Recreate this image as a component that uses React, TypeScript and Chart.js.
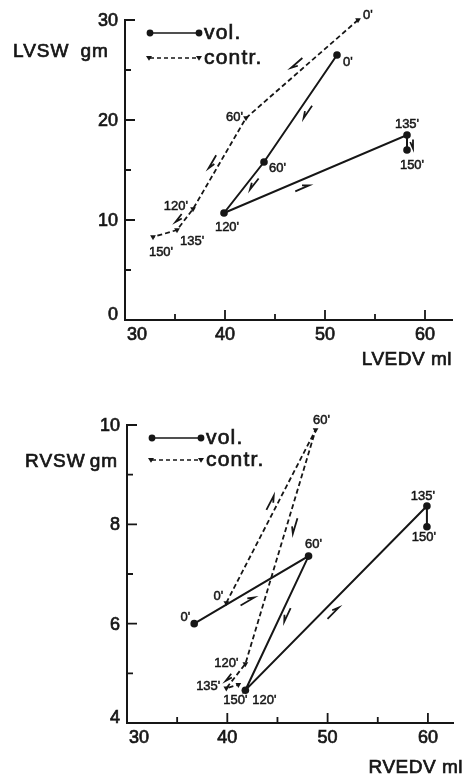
import { useEffect, useRef } from "react";
import { Chart, registerables } from "chart.js";

Chart.register(...registerables);

// Measurement times (minutes)
const timeLabels = ["0'", "60'", "120'", "135'", "150'"];
const seriesNames = ["vol.", "contr."];

// Left ventricle: end-diastolic volume (ml) vs stroke work (gm)
const lvVolEDV = [51.2, 43.9, 39.9, 58.2, 58.2];
const lvVolSW = [26.5, 15.8, 10.7, 18.5, 17.0];
const lvContrEDV = [53.3, 42.1, 36.8, 35.2, 32.8];
const lvContrSW = [30.0, 20.2, 11.1, 9.0, 8.3];

// Right ventricle: end-diastolic volume (ml) vs stroke work (gm)
const rvVolEDV = [36.7, 48.1, 41.8, 59.9, 59.9];
const rvVolSW = [6.0, 7.36, 4.66, 8.37, 7.95];
const rvContrEDV = [39.9, 48.8, 41.8, 39.9, 41.1];
const rvContrSW = [6.42, 9.9, 5.19, 4.7, 4.77];

// Axis ticks
const edvMajorTicks = [30, 40, 50, 60];
const edvMinorTicks = [35, 45, 55];
const lvswMajorTicks = [0, 10, 20, 30];
const lvswMinorTicks = [5, 15, 25];
const rvswMajorTicks = [4, 6, 8, 10];
const rvswMinorTicks = [5, 7, 9];

const INK = "#161616";
const FONT = '"Liberation Sans", Arial, sans-serif';

type Placement = [number, number, CanvasTextAlign];
type Harpoon = { seg: number; t: number; off: number; len: number };

interface PanelDef {
  height: number;
  pad: { top: number; right: number };
  yAxisWidth: number;
  xAxisHeight: number;
  xMin: number;
  xMax: number;
  yMin: number;
  yMax: number;
  yMajor: number[];
  yMinor: number[];
  yTitle: [string, string];
  yTitlePos: { x: number; gap: number; y: number };
  xTitle: string;
  xTitlePos: { right: number; y: number };
  legendY: [number, number];
  vol: { x: number[]; y: number[] };
  contr: { x: number[]; y: number[] };
  volLabels: Placement[];
  contrLabels: Placement[];
  volArrows: Harpoon[];
  contrArrows: Harpoon[];
}

const lvPanel: PanelDef = {
  height: 390,
  pad: { top: 20, right: 16 },
  yAxisWidth: 125,
  xAxisHeight: 70,
  xMin: 30,
  xMax: 62.7,
  yMin: 0,
  yMax: 30,
  yMajor: lvswMajorTicks,
  yMinor: lvswMinorTicks,
  yTitle: ["LVSW", "gm"],
  yTitlePos: { x: 13, gap: 11, y: 52 },
  xTitle: "LVEDV ml",
  xTitlePos: { right: 452, y: 360 },
  legendY: [33, 58],
  vol: { x: lvVolEDV, y: lvVolSW },
  contr: { x: lvContrEDV, y: lvContrSW },
  volLabels: [
    [6, 7, "left"],
    [5, 6, "left"],
    [3, 14, "center"],
    [0, -11, "center"],
    [5, 15, "center"],
  ],
  contrLabels: [
    [5, -5, "left"],
    [-3, -1, "right"],
    [-5, -3, "right"],
    [3, 11, "left"],
    [8, 15, "center"],
  ],
  volArrows: [
    { seg: 0, t: 0.49, off: -8, len: 15 },
    { seg: 1, t: 0.36, off: -6, len: 14 },
    { seg: 2, t: 0.41, off: 8, len: 15 },
    { seg: 3, t: 0.6, off: -6, len: 9 },
  ],
  contrArrows: [
    { seg: 0, t: 0.5, off: 8, len: 15 },
    { seg: 1, t: 0.52, off: 7, len: 15 },
    { seg: 2, t: 0.6, off: 6, len: 10 },
  ],
};

const rvPanel: PanelDef = {
  height: 387,
  pad: { top: 35, right: 15 },
  yAxisWidth: 127,
  xAxisHeight: 54,
  xMin: 30,
  xMax: 62.5,
  yMin: 4,
  yMax: 10,
  yMajor: rvswMajorTicks,
  yMinor: rvswMinorTicks,
  yTitle: ["RVSW", "gm"],
  yTitlePos: { x: 25, gap: 4, y: 72 },
  xTitle: "RVEDV ml",
  xTitlePos: { right: 463, y: 378 },
  legendY: [48, 70],
  vol: { x: rvVolEDV, y: rvVolSW },
  contr: { x: rvContrEDV, y: rvContrSW },
  volLabels: [
    [-4, -6, "right"],
    [5, -12, "center"],
    [7, 10, "left"],
    [-4, -10, "center"],
    [-3, 11, "center"],
  ],
  contrLabels: [
    [-3, -6, "right"],
    [6, -10, "center"],
    [-7, 0, "right"],
    [-6, -2, "right"],
    [-3, 16, "center"],
  ],
  volArrows: [
    { seg: 0, t: 0.43, off: 8, len: 16 },
    { seg: 1, t: 0.42, off: -6, len: 15 },
    { seg: 2, t: 0.45, off: 8.5, len: 16 },
  ],
  contrArrows: [
    { seg: 0, t: 0.56, off: -7, len: 16 },
    { seg: 1, t: 0.4, off: -8, len: 16 },
    { seg: 2, t: 0.68, off: 5, len: 9 },
  ],
};

type Pt = { x: number; y: number };

// Text with a hairline outline so glyphs carry the weight of printed lettering
function heavyText(ctx: CanvasRenderingContext2D, s: string, x: number, y: number, weight = 0.7) {
  ctx.fillText(s, x, y);
  ctx.lineWidth = weight;
  ctx.strokeText(s, x, y);
}

function drawHarpoon(ctx: CanvasRenderingContext2D, p1: Pt, p2: Pt, a: Harpoon) {
  const dx = p2.x - p1.x;
  const dy = p2.y - p1.y;
  const L = Math.hypot(dx, dy);
  const ux = dx / L;
  const uy = dy / L;
  const nx = -uy;
  const ny = ux;
  const cx = p1.x + dx * a.t + nx * a.off;
  const cy = p1.y + dy * a.t + ny * a.off;
  const hx = cx + (ux * a.len) / 2;
  const hy = cy + (uy * a.len) / 2;
  const side = a.off >= 0 ? -1 : 1;
  ctx.moveTo(cx - (ux * a.len) / 2, cy - (uy * a.len) / 2);
  ctx.lineTo(hx, hy);
  ctx.lineTo(hx - ux * 6.5 + nx * side * 2.8, hy - uy * 6.5 + ny * side * 2.8);
}

function drawDownTriangle(ctx: CanvasRenderingContext2D, x: number, y: number, r: number) {
  ctx.beginPath();
  ctx.moveTo(x - r, y - r * 0.7);
  ctx.lineTo(x + r, y - r * 0.7);
  ctx.lineTo(x, y + r * 0.9);
  ctx.closePath();
  ctx.fill();
}

function makeOverlay(p: PanelDef) {
  return {
    id: "panelOverlay",
    afterDraw(chart: Chart) {
      const ctx = chart.ctx as CanvasRenderingContext2D & { letterSpacing?: string };
      const xs = chart.scales.x;
      const ys = chart.scales.y;
      const { left, bottom } = chart.chartArea;
      ctx.save();
      ctx.strokeStyle = INK;
      ctx.fillStyle = INK;
      ctx.lineWidth = 1.8;
      ctx.setLineDash([]);

      // inward tick marks
      ctx.beginPath();
      edvMajorTicks.forEach((v) => {
        const x = xs.getPixelForValue(v);
        if (x > left + 2) {
          ctx.moveTo(x, bottom);
          ctx.lineTo(x, bottom - 10);
        }
      });
      edvMinorTicks.forEach((v) => {
        const x = xs.getPixelForValue(v);
        ctx.moveTo(x, bottom);
        ctx.lineTo(x, bottom - 6);
      });
      p.yMajor.forEach((v) => {
        const y = ys.getPixelForValue(v);
        if (y < bottom - 2) {
          ctx.moveTo(left, y);
          ctx.lineTo(left + 10, y);
        }
      });
      p.yMinor.forEach((v) => {
        const y = ys.getPixelForValue(v);
        ctx.moveTo(left, y);
        ctx.lineTo(left + 6, y);
      });
      ctx.stroke();

      // tick labels
      ctx.font = `18px ${FONT}`;
      ctx.textBaseline = "middle";
      ctx.textAlign = "center";
      edvMajorTicks.forEach((v, i) => {
        const x = xs.getPixelForValue(v) + (i === 0 ? 12 : 0);
        heavyText(ctx, String(v), x, bottom + 15);
      });
      ctx.textAlign = "right";
      p.yMajor.forEach((v) => {
        const y = ys.getPixelForValue(v);
        heavyText(ctx, String(v), left - 7, v === p.yMin ? y - 5 : y + 1);
      });

      // axis titles
      ctx.font = `19px ${FONT}`;
      ctx.letterSpacing = "1px";
      ctx.textAlign = "left";
      const t0 = p.yTitle[0];
      heavyText(ctx, t0, p.yTitlePos.x, p.yTitlePos.y);
      const w0 = ctx.measureText(t0).width;
      heavyText(ctx, p.yTitle[1], p.yTitlePos.x + w0 + p.yTitlePos.gap, p.yTitlePos.y);
      ctx.letterSpacing = "0.5px";
      ctx.textAlign = "right";
      heavyText(ctx, p.xTitle, p.xTitlePos.right, p.xTitlePos.y);

      // legend
      const lx0 = left + 25;
      const lx1 = left + 74;
      ctx.lineWidth = 1.7;
      ctx.beginPath();
      ctx.moveTo(lx0, p.legendY[0]);
      ctx.lineTo(lx1, p.legendY[0]);
      ctx.stroke();
      ctx.beginPath();
      ctx.arc(lx0, p.legendY[0], 3.4, 0, Math.PI * 2);
      ctx.fill();
      ctx.beginPath();
      ctx.arc(lx1, p.legendY[0], 3.4, 0, Math.PI * 2);
      ctx.fill();
      ctx.setLineDash([4, 3]);
      ctx.beginPath();
      ctx.moveTo(lx0, p.legendY[1]);
      ctx.lineTo(lx1, p.legendY[1]);
      ctx.stroke();
      ctx.setLineDash([]);
      drawDownTriangle(ctx, lx0 - 1, p.legendY[1], 3);
      drawDownTriangle(ctx, lx1, p.legendY[1], 3);
      ctx.font = `21px ${FONT}`;
      ctx.letterSpacing = "1.2px";
      ctx.textAlign = "left";
      heavyText(ctx, seriesNames[0], lx1 + 5, p.legendY[0]);
      heavyText(ctx, seriesNames[1], lx1 + 5, p.legendY[1]);
      ctx.letterSpacing = "0px";

      // time labels next to the points
      ctx.font = `13px ${FONT}`;
      const placements = [p.volLabels, p.contrLabels];
      placements.forEach((pl, di) => {
        const meta = chart.getDatasetMeta(di);
        meta.data.forEach((el: any, j: number) => {
          const [dx, dy, align] = pl[j];
          ctx.textAlign = align;
          heavyText(ctx, timeLabels[j], el.x + dx, el.y + dy, 0.5);
        });
      });

      // direction arrows along each segment
      ctx.lineWidth = 1.8;
      ctx.beginPath();
      [p.volArrows, p.contrArrows].forEach((arrows, di) => {
        const pts = chart.getDatasetMeta(di).data as any[];
        arrows.forEach((a) => {
          drawHarpoon(ctx, pts[a.seg], pts[a.seg + 1], a);
        });
      });
      ctx.stroke();
      ctx.restore();
    },
  };
}

function Panel({ def }: { def: PanelDef }) {
  const ref = useRef<HTMLCanvasElement | null>(null);
  useEffect(() => {
    if (!ref.current) return;
    const toPts = (s: { x: number[]; y: number[] }) => s.x.map((x, i) => ({ x, y: s.y[i] }));
    const chart = new Chart(ref.current, {
      type: "scatter",
      data: {
        datasets: [
          {
            label: seriesNames[0],
            data: toPts(def.vol),
            showLine: true,
            borderColor: INK,
            borderWidth: 2,
            pointStyle: "circle",
            pointRadius: 3.8,
            pointBackgroundColor: INK,
            pointBorderColor: INK,
            pointBorderWidth: 0,
            clip: false,
          },
          {
            label: seriesNames[1],
            data: toPts(def.contr),
            showLine: true,
            borderColor: INK,
            borderWidth: 1.8,
            borderDash: [5, 3],
            pointStyle: "triangle",
            pointRotation: 180,
            pointRadius: 3.3,
            pointBackgroundColor: INK,
            pointBorderColor: INK,
            pointBorderWidth: 0,
            clip: false,
          },
        ],
      },
      options: {
        responsive: false,
        animation: false,
        devicePixelRatio: 1,
        layout: { padding: { top: def.pad.top, right: def.pad.right, left: 0, bottom: 0 } },
        plugins: { legend: { display: false }, tooltip: { enabled: false } },
        events: [],
        scales: {
          x: {
            type: "linear",
            min: def.xMin,
            max: def.xMax,
            grid: { display: false, drawTicks: false },
            ticks: { display: false },
            border: { display: true, color: INK, width: 2 },
            afterFit: (s: any) => {
              s.height = def.xAxisHeight;
            },
          },
          y: {
            type: "linear",
            min: def.yMin,
            max: def.yMax,
            grid: { display: false, drawTicks: false },
            ticks: { display: false },
            border: { display: true, color: INK, width: 2 },
            afterFit: (s: any) => {
              s.width = def.yAxisWidth;
            },
          },
        },
      },
      plugins: [makeOverlay(def)],
    });
    return () => chart.destroy();
  }, [def]);
  return <canvas ref={ref} width={468} height={def.height} style={{ display: "block" }} />;
}

export default function App() {
  return (
    <div style={{ position: "fixed", left: 0, top: 0, width: 468, height: 777, background: "#fff" }}>
      <Panel def={lvPanel} />
      <Panel def={rvPanel} />
    </div>
  );
}
